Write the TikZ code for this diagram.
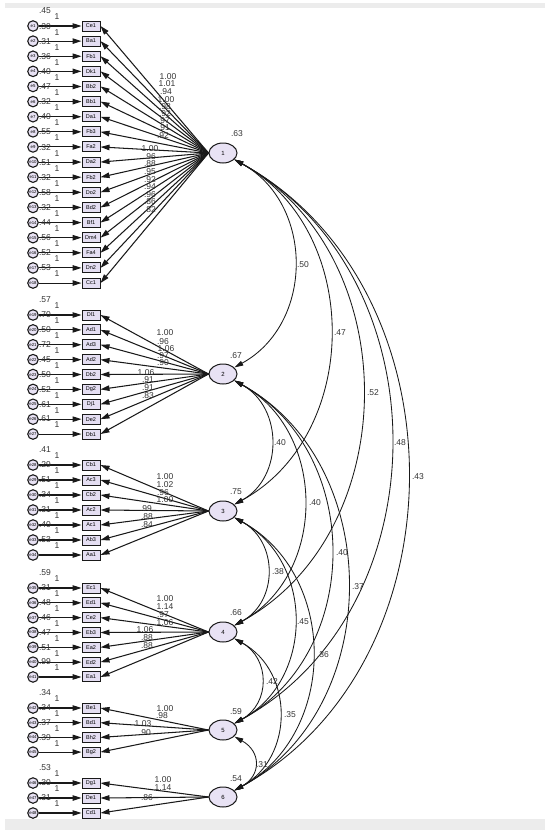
\documentclass[tikz,border=0pt]{standalone}
\usepackage{fontspec}
\setmainfont{Liberation Sans}
\usetikzlibrary{arrows.meta,shapes.geometric}
\definecolor{lav}{RGB}{232,226,244}
\definecolor{boxlav}{RGB}{228,222,242}
\definecolor{band}{RGB}{236,236,236}
\definecolor{ink}{RGB}{25,25,25}
\tikzset{
  ind/.style={draw=ink, line width=1pt, fill=boxlav, minimum width=18pt, minimum height=10pt, inner sep=0pt, font=\fontsize{5.5}{5.5}\selectfont},
  err/.style={circle, draw=ink, line width=1.1pt, fill=lav, minimum size=10.5pt, inner sep=0pt, font=\fontsize{4.3}{4.3}\selectfont},
  lat/.style={ellipse, draw=ink, line width=1pt, fill=lav, minimum width=28pt, minimum height=20pt, inner sep=0pt, font=\fontsize{6}{6}\selectfont},
  val/.style={inner sep=0pt, font=\fontsize{8.5}{8.5}\selectfont, text=black!80},
  load/.style={draw=ink, line width=1.05pt, -{Triangle[length=9pt,width=5.5pt]}},
  cov/.style={draw=ink, line width=0.85pt, {Triangle[length=9pt,width=5pt]}-{Triangle[length=9pt,width=5pt]}}
}
\newcommand\mkgroup[4]{%
  \foreach \nm/\vr [count=\i] in {#4} {
    \pgfmathtruncatemacro\k{\i+#1}
    \pgfmathsetmacro\yy{#2+#3*(\i-1)}
    \node[ind] (b\k) at (91,\yy) {\nm};
    \node[err] (e\k) at (33,\yy) {e\k};
    \draw[load] (e\k) -- (b\k);
    \node[val] at (45,\yy-15) {\vr};
    \node[val] at (57,\yy-9) {1};
  }}
\newcommand\covarc[4]{% from, to, c, m
  \draw[cov] (#1.-30) .. controls ([shift={(#3,#4)}]#1.-30) and ([shift={(#3,-#4)}]#2.30) .. (#2.30);}
\begin{document}
\begin{tikzpicture}[x=1pt,y=-1pt]
\useasboundingbox (0,0) rectangle (550,830);
\fill[band] (5,3) rectangle (545,8);
\fill[band] (5,819) rectangle (545,830);

% latent factors
\node[lat] (F1) at (223,153) {1};
\node[lat] (F2) at (223,374) {2};
\node[lat] (F3) at (223,511) {3};
\node[lat] (F4) at (223,632) {4};
\node[lat] (F5) at (223,730) {5};
\node[lat] (F6) at (223,797) {6};
\node[val] at (237,134) {.63};
\node[val] at (236,356) {.67};
\node[val] at (236,492) {.75};
\node[val] at (236,613) {.66};
\node[val] at (236,712) {.59};
\node[val] at (236,779) {.54};

% indicators and errors
\mkgroup{0}{26}{15.12}{Ce1/.45,Ba1/.30,Fb1/.31,Dk1/.36,Bb2/.40,Bb1/.47,Da1/.32,Fb3/.40,Fa2/.55,Da2/.32,Fb2/.51,Do2/.32,Bd2/.58,Bf1/.32,Dm4/.44,Fa4/.56,Dn2/.52,Cc1/.53}
\mkgroup{18}{315}{14.88}{Dl1/.57,Ad1/.70,Ad3/.50,Ad2/.72,Db2/.45,Dg2/.50,Dj1/.52,De2/.61,Db1/.61}
\mkgroup{27}{465}{15}{Cb1/.41,Ac3/.29,Cb2/.51,Ac2/.34,Ac1/.31,Ab3/.40,Aa1/.53}
\mkgroup{34}{588}{14.83}{Ec1/.59,Ed1/.31,Ce2/.48,Eb3/.46,Ea2/.47,Ed2/.51,Ea1/.99}
\mkgroup{41}{708}{14.7}{Be1/.34,Bd1/.34,Bh2/.37,Bg2/.39}
\mkgroup{45}{783}{15}{Dg1/.53,De1/.30,Cd1/.31}

% loadings
\foreach \k in {1,...,18} \draw[load] (F1.west) -- (b\k.east);
\foreach \k in {19,...,27} \draw[load] (F2.west) -- (b\k.east);
\foreach \k in {28,...,34} \draw[load] (F3.west) -- (b\k.east);
\foreach \k in {35,...,41} \draw[load] (F4.west) -- (b\k.east);
\foreach \k in {42,...,45} \draw[load] (F5.west) -- (b\k.east);
\foreach \k in {46,...,48} \draw[load] (F6.west) -- (b\k.east);

% loading labels
\foreach \xx/\yy/\lbltext in {168/77/1.00,167/84/1.01,166/92/.94,166/100/1.00,165/107/.98,165/114/.92,164/121/.97,164/128/.91,163/136/.92,
  150/149/1.00,150/157/.96,150/164/.88,150/172/.95,150/180/.92,150/187/.94,150/195/.96,150/202/.86,150/210/.82,
  165/333/1.00,163/342/.96,166/349/1.06,163/356/.97,163/363/.90,146/373/1.06,148/380/.91,148/388/.91,148/396/.83,
  165/477/1.00,165/485/1.02,163/493/.96,165/500/1.00,146/509/.99,147/517/.88,147/525/.84,
  165/599/1.00,165/607/1.14,163/615/.97,165/623/1.06,145/630/1.06,147/638/.88,147/646/.88,
  165/709/1.00,162/716/.98,143/724/1.03,145/733/.90,
  163/780/1.00,163/788/1.14,147/798/.86}
  \node[val] at (\xx,\yy) {\lbltext};

% covariances
\covarc{F1}{F2}{80}{44}
\covarc{F1}{F3}{128}{70}
\covarc{F1}{F4}{171}{94}
\covarc{F1}{F5}{209}{115}
\covarc{F1}{F6}{231}{127}
\covarc{F2}{F3}{49}{27}
\covarc{F2}{F4}{93}{51}
\covarc{F2}{F5}{129}{71}
\covarc{F2}{F6}{151}{83}
\covarc{F3}{F4}{44}{24}
\covarc{F3}{F5}{80}{44}
\covarc{F3}{F6}{104}{57}
\covarc{F4}{F5}{36}{20}
\covarc{F4}{F6}{60}{33}
\covarc{F5}{F6}{27}{15}

\foreach \xx/\yy/\lbltext in {303/265/.50,340/333/.47,373/393/.52,400/443/.48,418/477/.43,
  280/443/.40,315/503/.40,342/553/.40,358/587/.37,
  278/572/.38,303/622/.45,323/655/.36,
  272/682/.42,290/715/.35,262/765/.31}
  \node[val] at (\xx,\yy) {\lbltext};
\end{tikzpicture}
\end{document}
